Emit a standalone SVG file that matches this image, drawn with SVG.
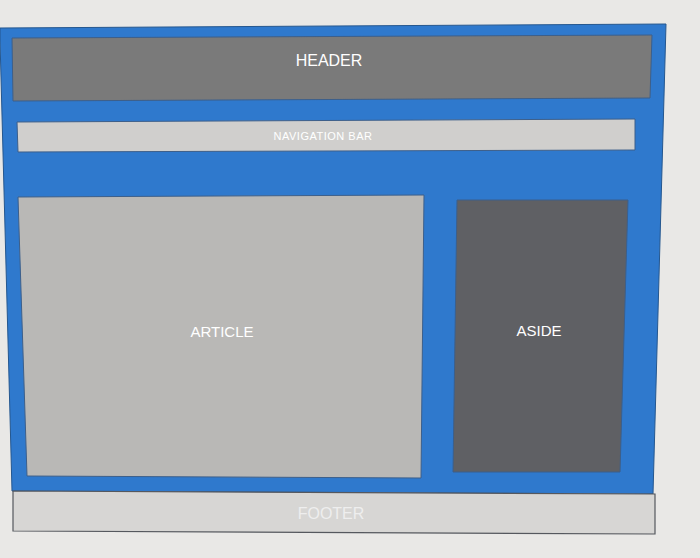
<svg xmlns="http://www.w3.org/2000/svg" width="700" height="558" viewBox="0 0 700 558">
  <style>
    .lbl { font-family: "Liberation Sans", "Noto Sans", Arial, sans-serif; fill: #ffffff; text-anchor: middle; dominant-baseline: central; }
    .box { stroke: #3d5f8a; stroke-width: 1; }
  </style>
  <rect x="0" y="0" width="700" height="558" fill="#e9e8e6"/>
  <g id="page">
    <polygon points="0,28 666,24 653,494 12,491 0,40" fill="#2f79cd" stroke="#25578f" stroke-width="1"/>
  </g>
  <g id="header">
    <polygon class="box" points="12,38 652,35 650,98 13,101" fill="#7a7a7a"/>
    <text class="lbl" x="329" y="60" font-size="16">HEADER</text>
  </g>
  <g id="nav">
    <polygon class="box" points="17,122 635,119 635,150 18,152" fill="#d0cfcd"/>
    <text class="lbl" x="323" y="136" font-size="11" letter-spacing="0.5" fill="#f4f4f4">NAVIGATION BAR</text>
  </g>
  <g id="article">
    <polygon class="box" points="18,197 424,195 421,478 27,476" fill="#b9b8b6"/>
    <text class="lbl" x="222" y="331" font-size="15">ARTICLE</text>
  </g>
  <g id="aside">
    <polygon class="box" points="457,200 628,200 620,472 453,472" fill="#5f6064"/>
    <text class="lbl" x="539" y="330" font-size="15">ASIDE</text>
  </g>
  <g id="footer">
    <polygon points="13,491 655,494 655,534 13,531" fill="#d7d6d4" stroke="#55585e" stroke-width="1.2"/>
    <text class="lbl" x="331" y="513" font-size="16" style="fill:#eeeeee">FOOTER</text>
  </g>
  <g id="connectors"/>
</svg>
